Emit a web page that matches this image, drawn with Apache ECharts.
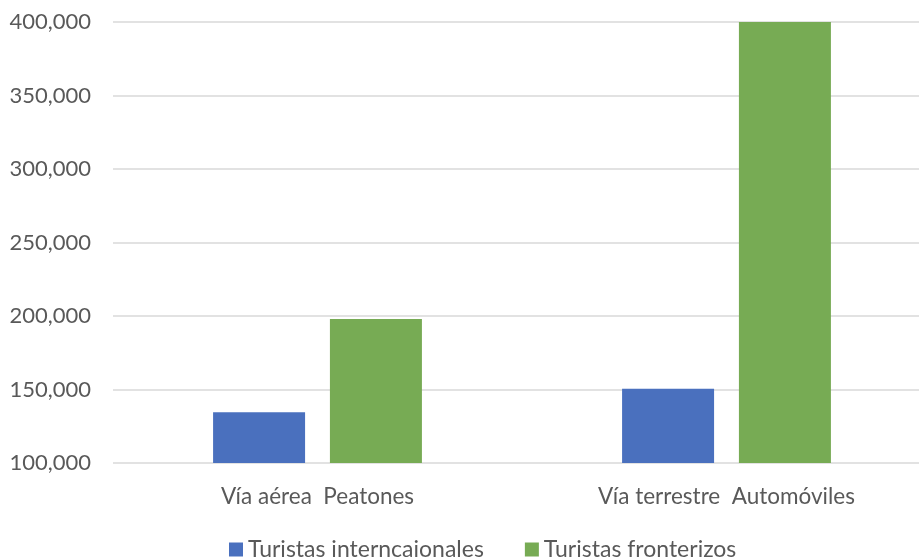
<!DOCTYPE html>
<html>
<head>
<meta charset="utf-8">
<script src="https://cdn.jsdelivr.net/npm/echarts@6/dist/echarts.min.js"></script>
<style>
  html, body { margin: 0; padding: 0; background: #fff; overflow: hidden; }
  /* slightly wider than the window so the plot area runs past the right edge, as in the original */
  #chart { width: 931px; height: 559px; }
</style>
</head>
<body>
<div id="chart"></div>
<script>
const categories = ['Vía aérea  Peatones', 'Vía terrestre  Automóviles']
const internacionales = [134600, 150500]
const fronterizos = [198000, 400000]
const seriesNames = ['Turistas interncaionales', 'Turistas fronterizos']

const chart = echarts.init(document.getElementById('chart'))

const textColor = '#595959'
const fontFamily = 'Lato, "Open Sans", sans-serif'

chart.setOption({
  animation: false,
  textStyle: { fontFamily: fontFamily },
  legend: {
    data: seriesNames,
    top: 533,
    left: 224,
    itemWidth: 14,
    itemHeight: 14,
    itemGap: 41,
    icon: 'rect',
    textStyle: { fontSize: 23, color: textColor, fontFamily: fontFamily }
  },
  grid: {
    left: 113,
    right: 0,
    top: 22,
    height: 441
  },
  xAxis: {
    type: 'category',
    data: categories,
    axisLine: { show: false },
    axisTick: { show: false },
    axisLabel: { fontSize: 22.5, color: textColor, margin: 22 }
  },
  yAxis: {
    type: 'value',
    min: 100000,
    max: 400000,
    interval: 50000,
    axisLine: { show: false },
    axisTick: { show: false },
    splitLine: { lineStyle: { color: '#d9d9d9', width: 1.5 } },
    axisLabel: {
      fontSize: 22,
      color: textColor,
      margin: 22,
      formatter: v => v.toLocaleString('en-US')
    }
  },
  series: [
    {
      name: seriesNames[0],
      type: 'bar',
      data: internacionales,
      barWidth: 92,
      barGap: '27%',
      itemStyle: { color: '#4A70BE' }
    },
    {
      name: seriesNames[1],
      type: 'bar',
      data: fronterizos,
      barWidth: 92,
      itemStyle: { color: '#77AB54' }
    }
  ]
})
</script>
</body>
</html>
